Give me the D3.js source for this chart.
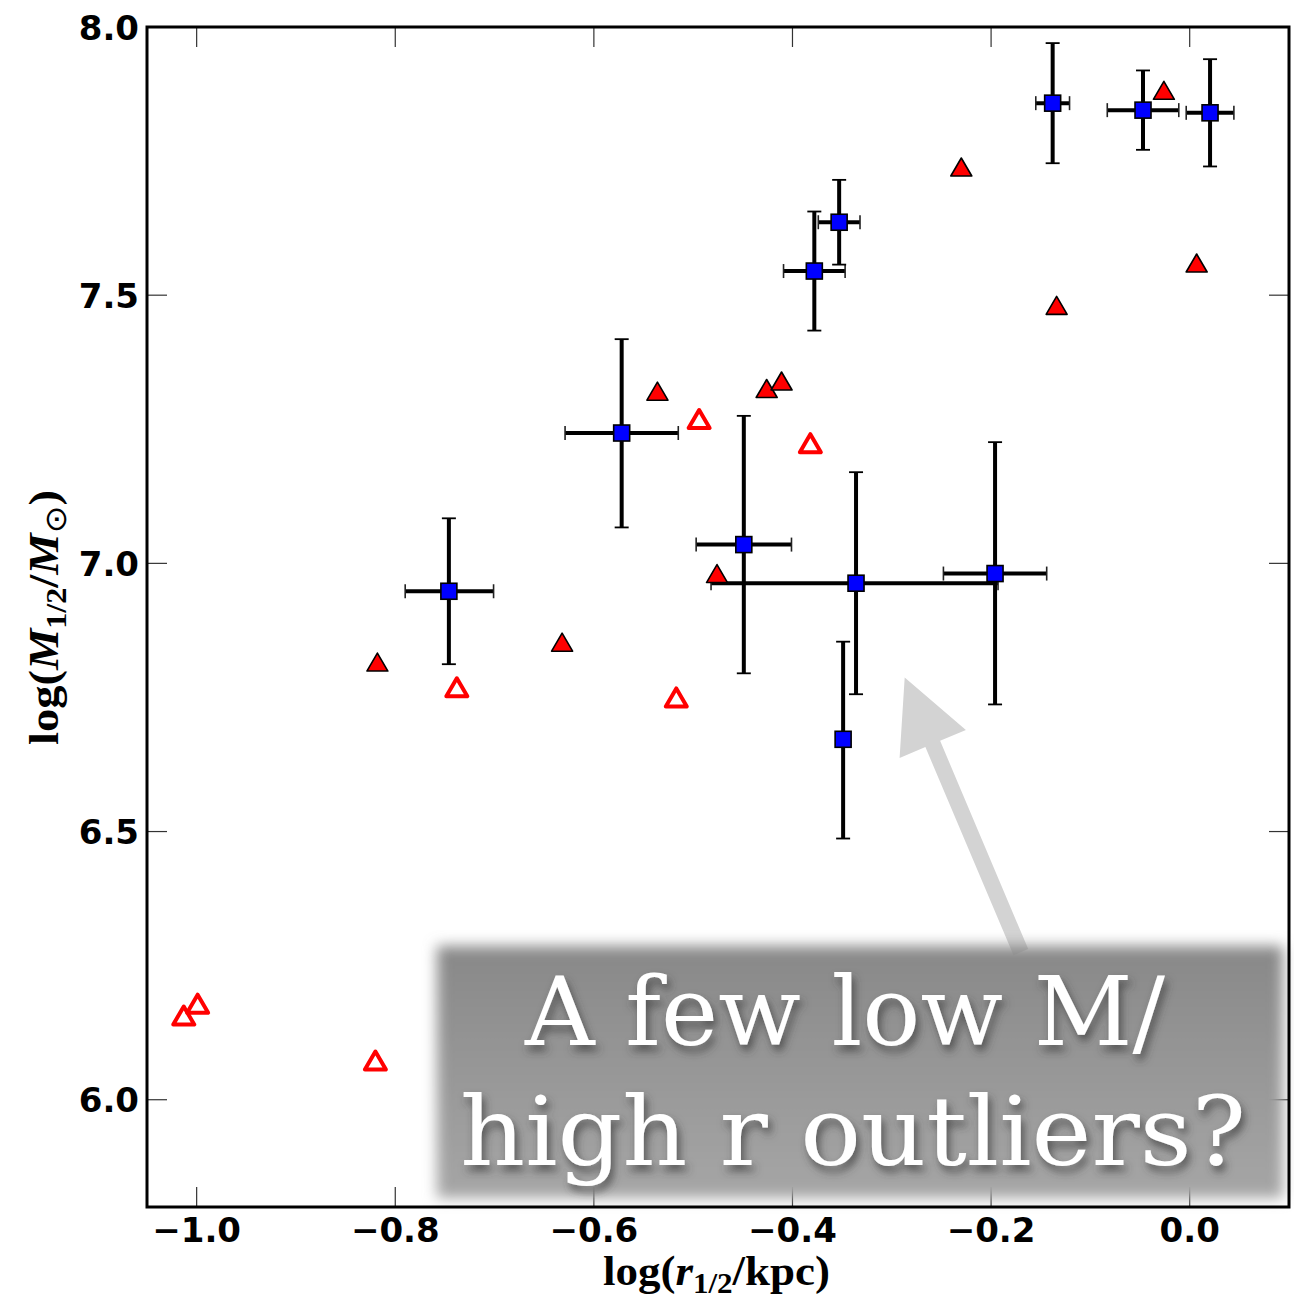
<!DOCTYPE html>
<html>
<head>
<meta charset="utf-8">
<script src="https://cdn.jsdelivr.net/npm/d3@7"></script>
<style>
  html, body { margin: 0; padding: 0; background: #fff; }
  svg { display: block; }
</style>
</head>
<body>
<svg id="chart" width="1294" height="1298"></svg>
<script>
// ---------- data ----------
// blue squares with asymmetric error bars
const sqX    = [-0.746, -0.572, -0.449, -0.378, -0.353, -0.336, -0.349, -0.196, -0.138, -0.047, 0.0205];
const sqY    = [ 6.948,  7.243,  7.035,  7.545,  7.636,  6.963,  6.672,  6.981,  7.858,  7.845, 7.840];
const sqXlo  = [ 0.044,  0.057,  0.048,  0.031,  0.021,  0.146,  0.000,  0.052,  0.017,  0.036, 0.024];
const sqXhi  = [ 0.045,  0.057,  0.048,  0.031,  0.021,  0.143,  0.000,  0.052,  0.017,  0.036, 0.024];
const sqYlo  = [ 0.136,  0.176,  0.240,  0.111,  0.079,  0.207,  0.185,  0.244,  0.112,  0.074, 0.100];
const sqYhi  = [ 0.136,  0.175,  0.240,  0.111,  0.079,  0.207,  0.182,  0.245,  0.112,  0.074, 0.100];

// filled red triangles
const ftX = [-0.818, -0.632, -0.536, -0.426, -0.411, -0.476, -0.230, -0.134, -0.026, 0.007];
const ftY = [ 6.816,  6.853,  7.321,  7.326,  7.340,  6.981,  7.739,  7.481,  7.882, 7.560];

// open red triangles
const otX = [-1.013, -0.999, -0.820, -0.738, -0.517, -0.494, -0.382];
const otY = [ 6.157,  6.179,  6.073,  6.769,  6.750,  7.269,  7.224];

// ticks
const xTicks = [-1.0, -0.8, -0.6, -0.4, -0.2, 0.0];
const yTicks = [6.0, 6.5, 7.0, 7.5, 8.0];

// annotation arrow (data coordinates: tail -> tip)
const arrowTail = [-0.170, 6.275];
const arrowTip  = [-0.287, 6.787];
const noteLines = ["A few low M/", "high r outliers?"];

// ---------- layout ----------
const L = 147, T = 27, W = 1142, H = 1180;
const svg = d3.select("#chart");
const x = d3.scaleLinear().domain([-1.05, 0.1]).range([L, L + W]);
const y = d3.scaleLinear().domain([5.8, 8.0]).range([T + H, T]);

const defs = svg.append("defs");
const bf = defs.append("filter").attr("id", "boxblur")
  .attr("x", "-10%").attr("y", "-20%").attr("width", "120%").attr("height", "140%");
bf.append("feGaussianBlur").attr("stdDeviation", 7);
const grad = defs.append("linearGradient").attr("id", "boxgrad")
  .attr("x1", 0).attr("y1", 0).attr("x2", 0).attr("y2", 1);
grad.append("stop").attr("offset", "0%").attr("stop-color", "#888888");
grad.append("stop").attr("offset", "100%").attr("stop-color", "#a6a6a6");
const tf = defs.append("filter").attr("id", "txtshadow")
  .attr("x", "-10%").attr("y", "-30%").attr("width", "120%").attr("height", "160%");
tf.append("feDropShadow").attr("dx", 3).attr("dy", 6).attr("stdDeviation", 4)
  .attr("flood-color", "#3a3a3a").attr("flood-opacity", 0.75);

const clip = defs.append("clipPath").attr("id", "plotclip");
clip.append("rect").attr("x", L).attr("y", T).attr("width", W).attr("height", H);

const plot = svg.append("g").attr("clip-path", "url(#plotclip)");

// ticks (inside, all four sides)
const tl = 20;
const tickG = svg.append("g").attr("stroke", "#333").attr("stroke-width", 1.2);
xTicks.forEach(t => {
  tickG.append("line").attr("x1", x(t)).attr("x2", x(t)).attr("y1", T + H).attr("y2", T + H - tl);
  tickG.append("line").attr("x1", x(t)).attr("x2", x(t)).attr("y1", T).attr("y2", T + tl);
});
yTicks.forEach(t => {
  tickG.append("line").attr("x1", L).attr("x2", L + tl).attr("y1", y(t)).attr("y2", y(t));
  tickG.append("line").attr("x1", L + W).attr("x2", L + W - tl).attr("y1", y(t)).attr("y2", y(t));
});

// error bars
const sq = sqX.map((v, i) => ({x: v, y: sqY[i], xlo: sqXlo[i], xhi: sqXhi[i], ylo: sqYlo[i], yhi: sqYhi[i]}));
const eb = plot.append("g");
const cap = 7;
sq.forEach(d => {
  if (d.xlo > 0 || d.xhi > 0) {
    eb.append("line").attr("x1", x(d.x - d.xlo)).attr("x2", x(d.x + d.xhi))
      .attr("y1", y(d.y)).attr("y2", y(d.y)).attr("stroke", "#000").attr("stroke-width", 4);
    [d.x - d.xlo, d.x + d.xhi].forEach(v => eb.append("line")
      .attr("x1", x(v)).attr("x2", x(v)).attr("y1", y(d.y) - cap).attr("y2", y(d.y) + cap)
      .attr("stroke", "#222").attr("stroke-width", 1.6));
  }
  eb.append("line").attr("x1", x(d.x)).attr("x2", x(d.x))
    .attr("y1", y(d.y - d.ylo)).attr("y2", y(d.y + d.yhi)).attr("stroke", "#000").attr("stroke-width", 4);
  [d.y - d.ylo, d.y + d.yhi].forEach(v => eb.append("line")
    .attr("x1", x(d.x) - cap).attr("x2", x(d.x) + cap).attr("y1", y(v)).attr("y2", y(v))
    .attr("stroke", "#000").attr("stroke-width", 1.8));
});

// triangles
const tri = (cx, cy, w, h) => `M${cx},${cy - h / 2}L${cx + w / 2},${cy + h / 2}L${cx - w / 2},${cy + h / 2}Z`;
plot.append("g").selectAll("path").data(otX.map((v, i) => [v, otY[i]])).join("path")
  .attr("d", d => tri(x(d[0]), y(d[1]), 21, 18))
  .attr("fill", "#fff").attr("stroke", "#ff0000").attr("stroke-width", 4).attr("stroke-linejoin", "round");
plot.append("g").selectAll("path").data(ftX.map((v, i) => [v, ftY[i]])).join("path")
  .attr("d", d => tri(x(d[0]), y(d[1]), 21, 18))
  .attr("fill", "#ff0000").attr("stroke", "#000").attr("stroke-width", 1.6).attr("stroke-linejoin", "round");

// squares
const s = 16;
plot.append("g").selectAll("rect").data(sq).join("rect")
  .attr("x", d => x(d.x) - s / 2).attr("y", d => y(d.y) - s / 2)
  .attr("width", s).attr("height", s)
  .attr("fill", "#0000ff").attr("stroke", "#000").attr("stroke-width", 1.6);

// arrow
(function () {
  const x0 = x(arrowTail[0]), y0 = y(arrowTail[1]), x1 = x(arrowTip[0]), y1 = y(arrowTip[1]);
  const dx = x1 - x0, dy = y1 - y0, len = Math.hypot(dx, dy);
  const ux = dx / len, uy = dy / len, px = -uy, py = ux;
  const sw = 8, hw = 36, hl = 72;
  const bx = x1 - ux * hl, by = y1 - uy * hl;
  const pts = [
    [x0 + px * sw, y0 + py * sw], [bx + px * sw, by + py * sw], [bx + px * hw, by + py * hw],
    [x1, y1],
    [bx - px * hw, by - py * hw], [bx - px * sw, by - py * sw], [x0 - px * sw, y0 - py * sw]
  ];
  svg.append("polygon").attr("points", pts.map(p => p.join(",")).join(" ")).attr("fill", "#d3d3d3");
})();

// note box
svg.append("rect").attr("x", 437).attr("y", 946).attr("width", 846).attr("height", 252)
  .attr("fill", "url(#boxgrad)").attr("filter", "url(#boxblur)");
const noteG = svg.append("g").attr("filter", "url(#txtshadow)");
noteG.append("text").attr("x", 525).attr("y", 1045).text(noteLines[0])
  .attr("font-family", "'DejaVu Serif'").attr("font-size", 96).attr("fill", "#fff")
  .attr("textLength", 640).attr("lengthAdjust", "spacingAndGlyphs");
noteG.append("text").attr("x", 460).attr("y", 1165).text(noteLines[1])
  .attr("font-family", "'DejaVu Serif'").attr("font-size", 96).attr("fill", "#fff")
  .attr("textLength", 786).attr("lengthAdjust", "spacingAndGlyphs");

// frame
svg.append("rect").attr("x", L).attr("y", T).attr("width", W).attr("height", H)
  .attr("fill", "none").attr("stroke", "#000").attr("stroke-width", 3);

// tick labels
const fmt = d3.format(".1f");
const minus = v => fmt(v).replace("-", "\u2212");
svg.append("g").selectAll("text").data(xTicks).join("text")
  .attr("x", d => x(d)).attr("y", 1242).attr("text-anchor", "middle")
  .attr("font-family", "'DejaVu Sans'").attr("font-weight", "bold").attr("font-size", 34)
  .text(minus);
svg.append("g").selectAll("text").data(yTicks).join("text")
  .attr("x", 139).attr("y", d => y(d) + 12.5).attr("text-anchor", "end")
  .attr("font-family", "'DejaVu Sans'").attr("font-weight", "bold").attr("font-size", 34)
  .text(minus);

// axis titles
const xt = svg.append("text").attr("x", 603).attr("y", 1285)
  .attr("font-family", "'Liberation Serif'").attr("font-weight", "bold").attr("font-size", 42)
  .attr("textLength", 227).attr("lengthAdjust", "spacingAndGlyphs");
xt.append("tspan").text("log(");
xt.append("tspan").attr("font-style", "italic").text("r");
xt.append("tspan").attr("font-size", 29).attr("dy", 8).text("1/2");
xt.append("tspan").attr("dy", -8).text("/kpc)");

const yt = svg.append("text").attr("transform", "translate(58,745) rotate(-90)")
  .attr("font-family", "'Liberation Serif'").attr("font-weight", "bold").attr("font-size", 42)
  .attr("textLength", 255).attr("lengthAdjust", "spacingAndGlyphs");
yt.append("tspan").text("log(");
yt.append("tspan").attr("font-style", "italic").text("M");
yt.append("tspan").attr("font-size", 29).attr("dy", 8).text("1/2");
yt.append("tspan").attr("dy", -8).text("/");
yt.append("tspan").attr("font-style", "italic").text("M");
yt.append("tspan").attr("font-size", 30).attr("dy", 8).attr("font-weight", "normal").attr("font-family", "'DejaVu Sans'").text("\u2299");
yt.append("tspan").attr("dy", -8).text(")");
</script>
</body>
</html>
